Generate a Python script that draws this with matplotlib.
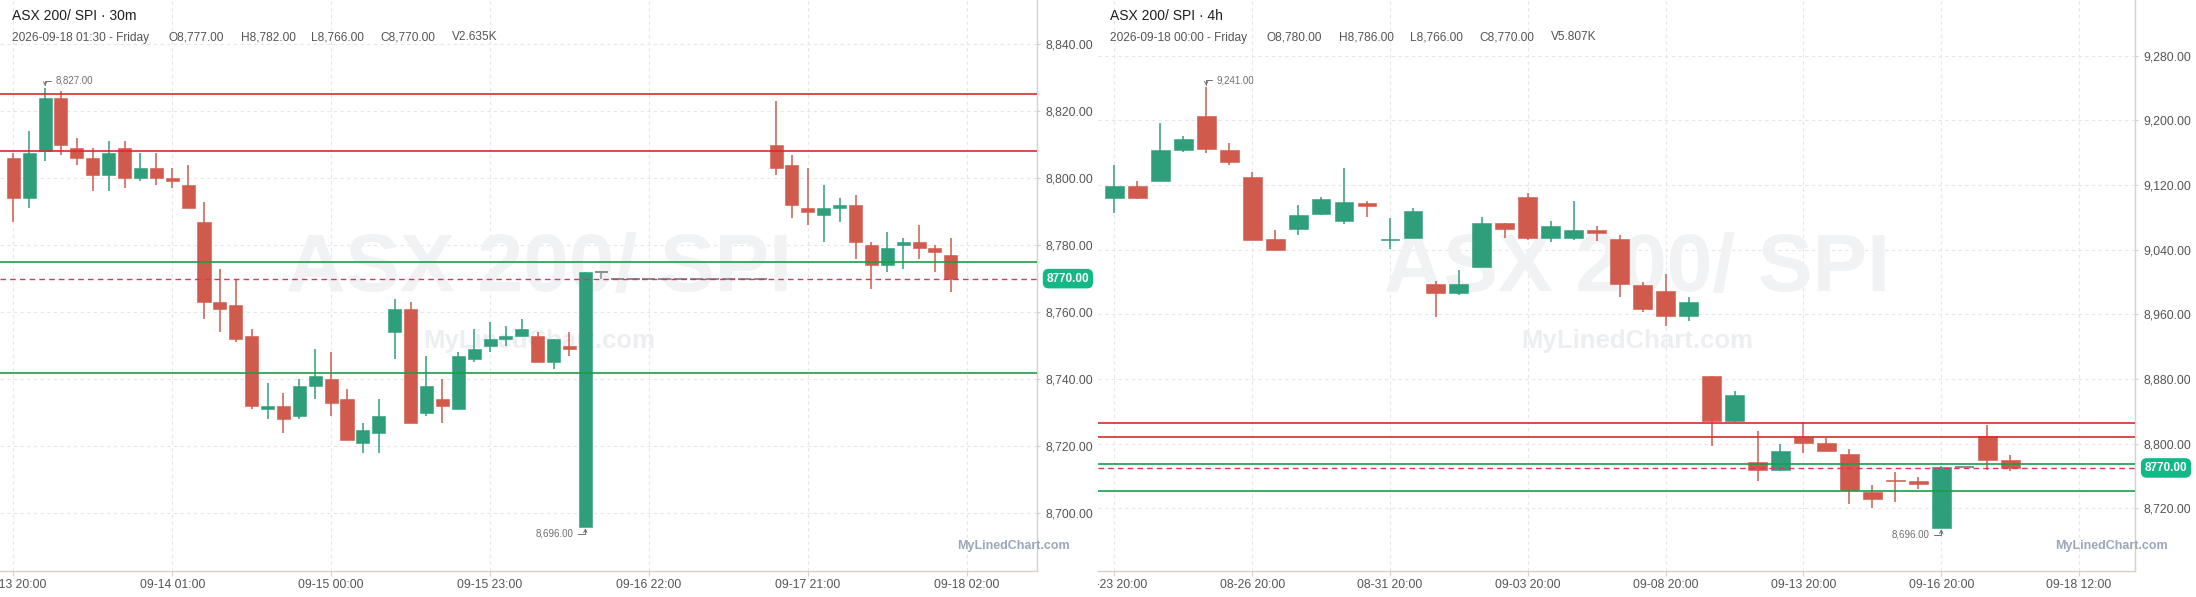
import matplotlib
matplotlib.use('Agg')
import matplotlib.pyplot as plt
from matplotlib.transforms import Bbox, TransformedBbox
import numpy as np

plt.rcParams['font.family'] = ['Liberation Sans', 'DejaVu Sans']

# ---- 30m candles (left pane) ----
m30_open = [8806, 8794, 8808, 8824, 8809, 8806, 8801, 8809, 8800, 8803,
            8800, 8798, 8787, 8763, 8762, 8753, 8731, 8732, 8729, 8738,
            8740, 8734, 8721, 8724, 8754, 8761, 8730, 8734, 8731, 8746,
            8750, 8752, 8753, 8753, 8745, 8750, 8696, 8772, 8770, 8770,
            8770, 8770, 8770, 8770, 8770, 8770, 8770, 8770, 8810, 8804,
            8791, 8789, 8791, 8792, 8780, 8774, 8780, 8781, 8779, 8777]
m30_high = [8807.6, 8814, 8827, 8826, 8812, 8809, 8811, 8811, 8807.6, 8807.6,
            8803, 8804, 8793, 8773, 8770, 8755, 8739, 8736, 8740, 8749,
            8748, 8737, 8727, 8734, 8764, 8763, 8747, 8740, 8748, 8755,
            8757, 8756, 8758, 8754, 8752, 8754, 8772, 8772, 8770, 8770,
            8770, 8770, 8770, 8770, 8770, 8770, 8770, 8770, 8823, 8807,
            8803, 8798, 8794, 8795, 8781, 8784, 8782, 8786, 8780, 8782]
m30_low = [8787, 8791, 8805, 8807, 8804, 8796, 8796, 8797, 8799, 8798,
           8797, 8791, 8758, 8754, 8751, 8731, 8728, 8724, 8728, 8734,
           8729, 8722, 8718, 8718, 8746, 8727, 8729, 8727, 8731, 8745,
           8748, 8750, 8753, 8745, 8743, 8747, 8696, 8770, 8770, 8770,
           8770, 8770, 8770, 8770, 8770, 8770, 8770, 8770, 8801, 8788,
           8786, 8781, 8787, 8776, 8767, 8772, 8773, 8776, 8772, 8766]
m30_close = [8794, 8807.6, 8824, 8810, 8806, 8801, 8807.6, 8800, 8803, 8800,
             8799, 8791, 8763, 8761, 8752, 8732, 8732, 8728, 8738, 8741,
             8733, 8722, 8725, 8729, 8761, 8727, 8738, 8732, 8747, 8749,
             8752, 8753, 8755, 8745, 8752, 8749, 8772, 8772, 8770, 8770,
             8770, 8770, 8770, 8770, 8770, 8770, 8770, 8770, 8803, 8792,
             8790, 8791, 8792, 8781, 8774, 8779, 8781, 8779, 8778, 8770]
m30_ticks = [0, 10, 20, 30, 40, 50, 60]
m30_ticklabels = ['09-13 20:00', '09-14 01:00', '09-15 00:00', '09-15 23:00',
                  '09-16 22:00', '09-17 21:00', '09-18 02:00']
m30_yticks = [8700, 8720, 8740, 8760, 8780, 8800, 8820, 8840]

# ---- 4h candles (right pane) ----
h4_open = [9104, 9119, 9125, 9163, 9205, 9163, 9130, 9053, 9066, 9084,
           9076, 9098, 9052, 9054, 8998, 8987, 9018, 9073, 9105, 9054,
           9054, 9064, 9053, 8996, 8989, 8958, 8884, 8828, 8777, 8767,
           8808, 8801, 8787, 8740, 8755, 8754, 8696, 8771, 8810, 8780]
h4_high = [9145, 9125, 9197, 9181, 9241, 9172, 9136, 9064, 9095, 9105,
           9141, 9100, 9079, 9092, 9001, 9015, 9080, 9073, 9110, 9075,
           9100, 9069, 9058, 9000, 9010, 8981, 8884, 8865, 8816, 8800,
           8827, 8807, 8793, 8749, 8765, 8759, 8772, 8771, 8823, 8786]
h4_low = [9085, 9103, 9125, 9161, 9160, 9145, 9052, 9039, 9058, 9083,
          9072, 9081, 9041, 9054, 8957, 8984, 9018, 9054, 9052, 9050,
          9052, 9051, 8982, 8963, 8946, 8952, 8797, 8827, 8754, 8766,
          8788, 8791, 8725, 8720, 8728, 8744, 8696, 8771, 8768, 8766]
h4_close = [9119, 9104, 9163, 9177, 9164, 9148, 9052, 9039, 9083, 9103,
            9099, 9094, 9053, 9088, 8987, 8998, 9073, 9066, 9054, 9069,
            9064, 9061, 8998, 8967, 8958, 8975, 8828, 8860, 8768, 8791,
            8801, 8791, 8743, 8731, 8754, 8750, 8771, 8771, 8780, 8770]
h4_ticks = [0, 6, 12, 18, 24, 30, 36, 42]
h4_ticklabels = ['08-23 20:00', '08-26 20:00', '08-31 20:00', '09-03 20:00',
                 '09-08 20:00', '09-13 20:00', '09-16 20:00', '09-18 12:00']
h4_yticks = [8720, 8800, 8880, 8960, 9040, 9120, 9200, 9280]

# levels drawn on both panes
red_levels = [8825, 8808]
green_levels = [8775, 8742]
last_price = 8770

titles = ['ASX 200/ SPI · 30m', 'ASX 200/ SPI · 4h']
header_dates = ['2026-09-18 01:30 - Friday', '2026-09-18 00:00 - Friday']
header_ohlcv = [['O8,777.00', 'H8,782.00', 'L8,766.00', 'C8,770.00', 'V2.635K'],
                ['O8,780.00', 'H8,786.00', 'L8,766.00', 'C8,770.00', 'V5.807K']]

UP = '#2f9e7b'
DOWN = '#d05b4d'
FLAT = '#8c8c8c'
AXIS = '#d9d0c7'
TXT = '#555555'

W, H = 2196, 597
fig = plt.figure(figsize=(W / 100, H / 100), dpi=100)
fig.patch.set_facecolor('white')


def fx(px):
    return px / W


def fy(py):
    return 1 - py / H


def draw_candles(ax, o, h, l, c, width):
    for i in range(len(o)):
        if c[i] > o[i]:
            col = UP
        elif c[i] < o[i]:
            col = DOWN
        else:
            col = FLAT
        ax.vlines(i, l[i], h[i], color=col, lw=1.1, zorder=3)
        if c[i] == o[i]:
            ax.hlines(o[i], i - width / 2, i + width / 2, color=col, lw=1.4, zorder=3)
        else:
            ax.bar(i, abs(c[i] - o[i]), width, bottom=min(o[i], c[i]),
                   color=col, edgecolor=col, lw=0.4, zorder=3)


def style_axes(ax, ticks, labels, yticks):
    ax.set_facecolor('white')
    for s in ['left', 'top']:
        ax.spines[s].set_visible(False)
    for s in ['right', 'bottom']:
        ax.spines[s].set_color(AXIS)
        ax.spines[s].set_linewidth(1.0)
    ax.yaxis.tick_right()
    ax.set_xticks(ticks)
    ax.set_xticklabels(labels)
    ax.set_yticks(yticks)
    ax.set_yticklabels(['{:,.2f}'.format(v) for v in yticks])
    ax.tick_params(axis='y', colors=AXIS, labelcolor=TXT, labelsize=8.7,
                   length=2.5, pad=3.2)
    ax.tick_params(axis='x', colors=AXIS, labelcolor=TXT, labelsize=8.7,
                   length=3.5, pad=2.0)
    ax.grid(True, color='#e6e6e6', linestyle=(0, (3, 3)), lw=0.8)
    ax.set_axisbelow(True)


def draw_levels(ax):
    for v in red_levels:
        ax.axhline(v, color='#d92b2b', lw=1.2, zorder=4)
    for v in green_levels:
        ax.axhline(v, color='#1a9e48', lw=1.2, zorder=4)
    ax.axhline(last_price, color='#e0335e', lw=1.0, ls=(0, (4, 3)), zorder=4)
    ax.text(1.0295, last_price, '{:.2f}'.format(last_price),
            transform=ax.get_yaxis_transform(), ha='center', va='center',
            fontsize=8.5, weight='bold', color='white', clip_on=False, zorder=6,
            bbox=dict(boxstyle='round,pad=0.32,rounding_size=0.5', fc='#12b886', ec='none'))


def mark_extremes(ax, hi_i, hi_v, lo_i, lo_v):
    arrow = dict(arrowstyle='->', color='#707070', lw=0.7, mutation_scale=6,
                 shrinkA=1, shrinkB=1, connectionstyle='angle,angleA=0,angleB=90')
    a = dict(arrow, relpos=(0, 0.5))
    ax.annotate('{:,.2f}'.format(hi_v), xy=(hi_i, hi_v), xytext=(7.5, 5),
                textcoords='offset points', ha='left', va='center', fontsize=7,
                color='#707070', arrowprops=a, zorder=6)
    b = dict(arrow, relpos=(1, 0.5))
    ax.annotate('{:,.2f}'.format(lo_v), xy=(lo_i, lo_v), xytext=(-8.5, -5),
                textcoords='offset points', ha='right', va='center', fontsize=7,
                color='#707070', arrowprops=b, zorder=6)


def watermarks(ax):
    ax.text(0.52, 0.527, 'ASX 200/ SPI', transform=ax.transAxes, ha='center',
            va='center', fontsize=59, weight='bold', color='#f1f2f4', zorder=1)
    ax.text(0.52, 0.403, 'MyLinedChart.com', transform=ax.transAxes, ha='center',
            va='center', fontsize=18.5, weight='bold', color='#eceef1', zorder=1)


ax1 = fig.add_axes([0, fy(571), fx(1037.3), 571 / H])
ax2 = fig.add_axes([fx(1098), fy(571), fx(1037.4), 571 / H])

for ax, o, hh, ll, c, ticks, labels, yt in [
        (ax1, m30_open, m30_high, m30_low, m30_close, m30_ticks, m30_ticklabels, m30_yticks),
        (ax2, h4_open, h4_high, h4_low, h4_close, h4_ticks, h4_ticklabels, h4_yticks)]:
    style_axes(ax, ticks, labels, yt)
    watermarks(ax)
    draw_candles(ax, o, hh, ll, c, 0.82)
    draw_levels(ax)
    hi_i = int(np.argmax(hh))
    lo_i = int(np.argmin(ll))
    mark_extremes(ax, hi_i, hh[hi_i], lo_i, ll[lo_i])

ax1.set_xlim(-0.837, 64.44)
ax1.set_ylim(8682.8, 8853.1)
ax2.set_xlim(-0.71, 44.45)
ax2.set_ylim(8642.5, 9348.9)

# clip right pane tick labels to its own area
clip = TransformedBbox(Bbox([[fx(1098), 0], [1, 1]]), fig.transFigure)
for lbl in ax2.get_xticklabels():
    lbl.set_clip_box(clip)
    lbl.set_clip_on(True)

# headers
for x0, title, date, items, offs in [
        (11.8, titles[0], header_dates[0], header_ohlcv[0], [168.5, 240.7, 311.5, 380.8, 452]),
        (1110, titles[1], header_dates[1], header_ohlcv[1], [1266.8, 1338.6, 1410, 1479.3, 1550.7])]:
    fig.text(fx(x0), fy(16), title, ha='left', va='center', fontsize=10, color='#1f1f1f')
    fig.text(fx(x0), fy(37.5), date, ha='left', va='center', fontsize=8.6, color=TXT)
    for px, s in zip(offs, items):
        fig.text(fx(px), fy(37.5), s, ha='left', va='center', fontsize=8.6, color=TXT)

fig.text(fx(956.7), fy(545.7), 'MyLinedChart.com', ha='left', va='center',
         fontsize=9, weight='bold', color='#9ba6ba')
fig.text(fx(2055), fy(545.7), 'MyLinedChart.com', ha='left', va='center',
         fontsize=9, weight='bold', color='#9ba6ba')

fig.savefig('out.png', dpi=100, facecolor='white')
